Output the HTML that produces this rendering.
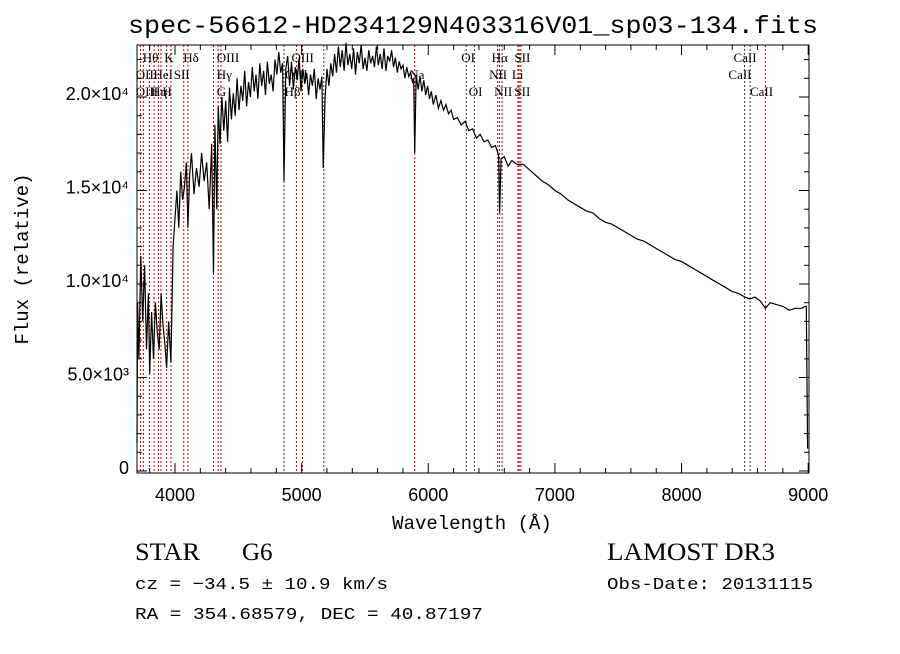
<!DOCTYPE html>
<html><head><meta charset="utf-8"><style>
body{margin:0;background:#fff;}
svg text{font-family:"Liberation Serif",serif;}
</style></head><body>
<svg id="chart" width="900" height="649" viewBox="0 0 900 649" xmlns="http://www.w3.org/2000/svg">
<rect width="900" height="649" fill="#fff"/>
<text x="128" y="33" textLength="690" lengthAdjust="spacingAndGlyphs" font-size="25" style="font-family:'Liberation Mono',monospace">spec-56612-HD234129N403316V01_sp03-134.fits</text>
<g id="lines"></g>
<g id="labels"></g>
<path id="spec" fill="none" stroke="#000" stroke-width="1.2"/>
<rect x="137" y="45" width="672" height="428" fill="none" stroke="#000" stroke-width="1"/>
<g id="axes"></g>
<text x="472" y="529" text-anchor="middle" font-size="19" style="font-family:'Liberation Mono',monospace">Wavelength (Å)</text>
<text transform="translate(28,259) rotate(-90)" text-anchor="middle" font-size="19" style="font-family:'Liberation Mono',monospace">Flux (relative)</text>
<text x="135" y="560" font-size="25" textLength="65" lengthAdjust="spacingAndGlyphs">STAR</text>
<text x="242" y="560" font-size="25">G6</text>
<text x="135" y="589" font-size="17" textLength="253" lengthAdjust="spacingAndGlyphs" style="font-family:'Liberation Mono',monospace">cz = −34.5 ± 10.9 km/s</text>
<text x="135" y="619" font-size="17" textLength="348" lengthAdjust="spacingAndGlyphs" style="font-family:'Liberation Mono',monospace">RA = 354.68579, DEC =  40.87197</text>
<text x="607" y="560" font-size="25" textLength="168" lengthAdjust="spacingAndGlyphs">LAMOST DR3</text>
<text x="607" y="589" font-size="17" textLength="206" lengthAdjust="spacingAndGlyphs" style="font-family:'Liberation Mono',monospace">Obs-Date: 20131115</text>
</svg>
<script>
const wavelengths=[
3700,3705,3715,3730,3745,3760,3775,3790,3800,3815,
3830,3845,3860,3875,3890,3905,3920,3934,3950,3968,
3985,4000,4015,4030,4045,4060,4075,4090,4102,4115,
4130,4150,4170,4190,4210,4230,4250,4270,4290,4304,
4315,4330,4341,4355,4370,
4385,4400,4415,4430,4445,4460,4475,4490,4505,4520,
4535,4550,4565,4580,4595,4610,4625,4640,4655,4670,
4685,4700,4715,4730,4745,4760,4775,4790,4805,4820,
4835,4850,
4861,
4875,4890,4905,4920,4935,4950,4965,4980,4995,5010,
5025,5040,5055,5070,5085,5100,5115,5130,5145,5160,
5170,
5185,5200,5215,5230,5245,5260,5275,5290,5305,5320,
5335,5350,5365,5380,5395,5410,5425,5440,5455,5470,
5485,5500,5515,5530,5545,5560,5575,5590,5605,5620,
5635,5650,5665,5680,5695,5710,5725,5740,5755,5770,
5785,5800,5815,5830,5845,5860,5875,
5885,5893,
5905,5920,5935,5950,5965,5980,5995,6010,6025,6040,
6060,6080,6100,6120,6140,6160,6180,6200,
6230,6260,6290,6320,6350,6380,6410,6440,6470,6500,6530,
6555,6563,6575,6600,6630,6660,6700,
6750,6800,6850,6900,6950,7000,7050,7100,7150,7200,
7250,7300,7350,7400,7450,7500,7550,7600,7650,7700,
7750,7800,7850,7900,7950,8000,8050,8100,8150,8200,
8250,8300,8350,8400,8450,8500,
8540,8580,8620,8662,8700,8750,8800,8850,8900,8950,8975,8985,8995];
const fluxes=[
1500,9000,6000,11500,8000,11000,6500,9500,5200,8500,
6000,9000,7400,6500,9500,7800,6800,5500,8000,5800,
12000,13500,15000,13000,16000,14500,15200,16500,13000,15800,
17000,14800,16200,15200,17000,15500,16500,14000,17500,10500,
18500,14000,19500,17500,20000,
18200,19800,17600,20500,18800,20200,19000,21000,19300,20600,
19800,21400,19500,20800,20000,21600,20300,21200,19900,21800,
20600,21400,20100,21900,20700,21200,20300,22000,21200,22400,
21300,21800,
15500,
21500,22200,20600,21900,20400,21600,20900,22100,20300,21500,
20700,21300,20100,21200,20600,21500,19900,21000,20400,21100,
16200,
20000,21500,20600,21800,21100,22300,21300,22700,21600,22500,
21400,22900,21700,22300,21500,22600,21200,22400,21800,22800,
21500,22100,21400,22500,21800,22200,21600,22700,21700,22300,
21500,22600,21400,22200,21900,22500,21600,22100,21300,21900,
21500,21700,21000,21600,21100,21300,20800,
21000,17000,
21200,20400,21100,20300,20900,20100,20600,19900,20300,19600,
20100,19400,19800,19300,19600,19100,19300,18800,
18900,18500,18700,18200,18300,17800,18000,17600,17700,17300,17400,
16900,13800,16700,16800,16300,16600,16400,
16400,16100,15800,15500,15300,15000,14800,14500,14300,14100,
13900,13800,13500,13300,13200,13000,12800,12600,12400,12300,
12100,11900,11700,11500,11300,11200,11000,10800,10600,10400,
10200,10000,9800,9600,9500,9300,
9200,9300,9100,8700,9000,8900,8800,8600,8700,8700,8800,8800,1200];
const lineWl=[3727,3750,3798,3835,3869,3889,3934,3968,4069,4102,4304,4341,4363,4861,4959,5007,5175,5893,6300,6364,6548,6563,6583,6708,6717,6731,8498,8542,8662];
const lineBlack=[0,0,0,0,0,0,0,0,0,0,0,0,0,1,0,0,1,0,1,1,1,0,1,0,0,0,1,1,0];
const labelText=["Hθ","K","Hδ","OIII","OIII","OI","Hα","SII","CaII","OII","HeI","SII","Hγ","OIII","Na","NII","Li","CaII","OIII","Hη","H","G","Hβ","OI","NII","SII","CaII"];
const labelWl=[3745,3915,4065,4330,4920,6260,6500,6680,8410,3690,3830,3990,4330,4870,5850,6480,6660,8370,3690,3810,3900,4330,4865,6320,6520,6680,8540];
const labelRow=[0,0,0,0,0,0,0,0,0,1,1,1,1,1,1,1,1,1,2,2,2,2,2,2,2,2,2];
const xTicks=[4000,5000,6000,7000,8000,9000];
const yTicks=[0,5000,10000,15000,20000];
const yTickLabels=["0","5.0×10³","1.0×10⁴","1.5×10⁴","2.0×10⁴"];

const X=w=>175+(w-4000)*0.12664;
const Y=v=>471-v*0.0187;
const NS="http://www.w3.org/2000/svg";
function mk(tag,attrs,parent){const e=document.createElementNS(NS,tag);for(const k in attrs)e.setAttribute(k,attrs[k]);parent.appendChild(e);return e;}

let d="";
const n=Math.min(wavelengths.length,fluxes.length);
for(let i=0;i<n;i++){d+=(i?"L":"M")+X(wavelengths[i]).toFixed(1)+","+Y(fluxes[i]).toFixed(1);}
document.getElementById("spec").setAttribute("d",d);

const lg=document.getElementById("lines");
lineWl.forEach((w,i)=>{
  const l=mk("line",{x1:X(w),x2:X(w),y1:45,y2:473,stroke:lineBlack[i]?"#333":"#c00000","stroke-width":1,"stroke-dasharray":"2,2"},lg);
  
  
});
const lb=document.getElementById("labels");
labelText.forEach((t,i)=>{
  const e=mk("text",{x:X(labelWl[i]),y:62+labelRow[i]*17,"font-size":13},lb);
  e.textContent=t;
  
  
});
const ax=document.getElementById("axes");
for(let w=3800;w<=9000;w+=200){
  const major=w%1000===0;const len=major?10:5;
  mk("line",{x1:X(w),x2:X(w),y1:473,y2:473-len,stroke:"#000"},ax);
  mk("line",{x1:X(w),x2:X(w),y1:45,y2:45+len,stroke:"#000"},ax);
}
xTicks.forEach(w=>{
  const t=mk("text",{x:X(w),y:501,"text-anchor":"middle","font-size":18,style:"font-family:'Liberation Sans',sans-serif"},ax);
  t.textContent=w;
  
  
});
for(let v=0;v<=22000;v+=1000){
  const major=v%5000===0;const len=major?10:5;
  mk("line",{x1:137,x2:137+len,y1:Y(v),y2:Y(v),stroke:"#000"},ax);
  mk("line",{x1:809,x2:809-len,y1:Y(v),y2:Y(v),stroke:"#000"},ax);
}
yTicks.forEach((v,i)=>{
  const t=mk("text",{x:129,y:Y(v)+3,"text-anchor":"end","font-size":18,style:"font-family:'Liberation Sans',sans-serif"},ax);
  t.textContent=yTickLabels[i];
  
  
});
</script>
</body></html>
